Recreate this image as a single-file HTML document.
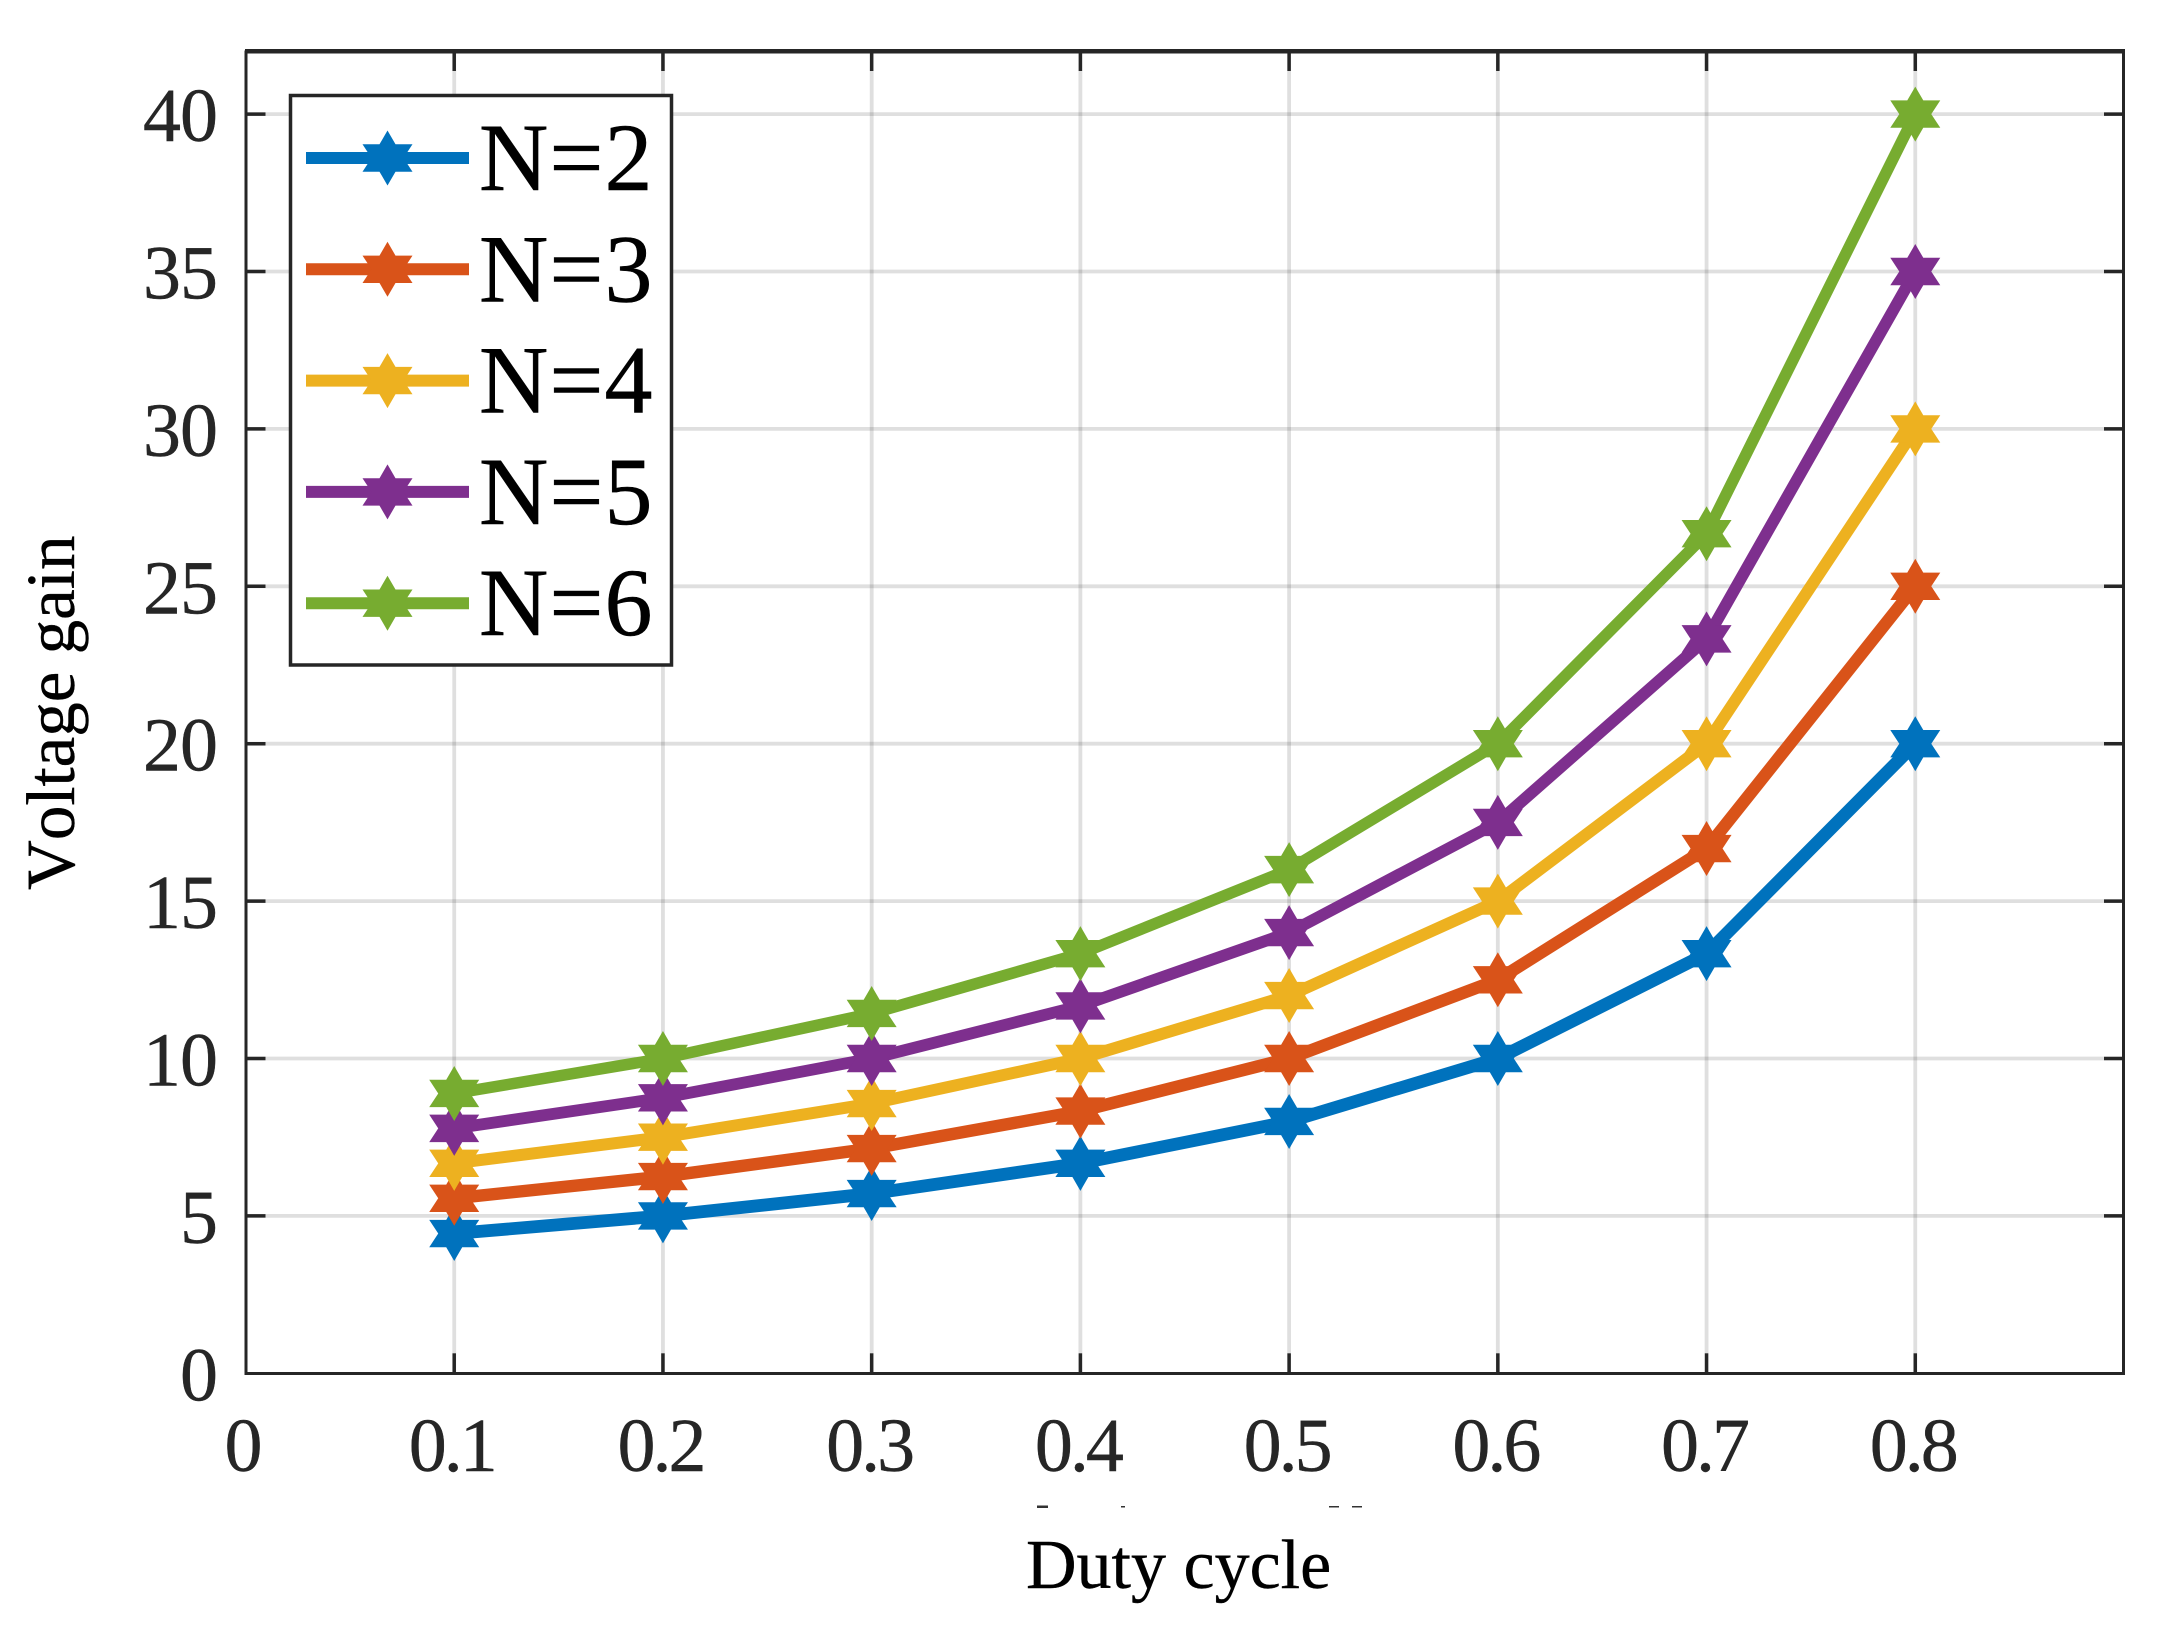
<!DOCTYPE html>
<html lang="en">
<head>
<meta charset="utf-8">
<title>Voltage gain vs duty cycle</title>
<style>
html,body{margin:0;padding:0;background:#fff;}
svg{display:block;}
text{font-family:"Liberation Serif","Times New Roman",serif;}
</style>
</head>
<body>
<svg id="chart" xmlns="http://www.w3.org/2000/svg" width="2176" height="1633" viewBox="0 0 2176 1633">
  <rect x="0" y="0" width="2176" height="1633" fill="#ffffff"/>
  <g id="grid"></g>
  <g id="ticks"></g>
  <g id="series"></g>
  <rect x="246" y="52" width="1877.5" height="1321.5" fill="none" stroke="#262626" stroke-width="3"/>
  <line x1="245" y1="51" x2="2125" y2="51" stroke="#262626" stroke-width="4"/>
  <g id="xlabels"></g>
  <g id="ylabels"></g>
  <g id="legend"></g>
  <g fill="#333333">
    <rect x="1037" y="1505.5" width="11" height="2.5"/>
    <rect x="1121" y="1506" width="4" height="1.5"/>
    <rect x="1329" y="1506" width="10" height="1.5"/>
    <rect x="1352" y="1506" width="10" height="1.5"/>
  </g>
  <text x="1026" y="1588" font-size="70" fill="#000000" stroke="#000000" stroke-width="0.4">Duty cycle</text>
  <text transform="translate(74 890) rotate(-90)" font-size="69" fill="#000000" stroke="#000000" stroke-width="0.4" style="font-kerning:none">Voltage gain</text>
</svg>
<script>
const dutyCycles = [0.1, 0.2, 0.3, 0.4, 0.5, 0.6, 0.7, 0.8];
const gainN2 = [4.44, 5, 5.71, 6.67, 8, 10, 13.33, 20];
const gainN3 = [5.56, 6.25, 7.14, 8.33, 10, 12.5, 16.67, 25];
const gainN4 = [6.67, 7.5, 8.57, 10, 12, 15, 20, 30];
const gainN5 = [7.78, 8.75, 10, 11.67, 14, 17.5, 23.33, 35];
const gainN6 = [8.89, 10, 11.43, 13.33, 16, 20, 26.67, 40];
const seriesNames = ['N=2', 'N=3', 'N=4', 'N=5', 'N=6'];
const seriesColors = ['#0072BD', '#D95319', '#EDB120', '#7E2F8E', '#77AC30'];
const seriesStrokeWidths = [12.8, 12.4, 12, 11.8, 11.5];
const xTickLabels = ['0', '0.1', '0.2', '0.3', '0.4', '0.5', '0.6', '0.7', '0.8'];
const xTickValues = [0, 0.1, 0.2, 0.3, 0.4, 0.5, 0.6, 0.7, 0.8];
const yTickLabels = ['0', '5', '10', '15', '20', '25', '30', '35', '40'];
const yTickValues = [0, 5, 10, 15, 20, 25, 30, 35, 40];
const allSeries = [gainN2, gainN3, gainN4, gainN5, gainN6];

const NS = 'http://www.w3.org/2000/svg';
const PLOT = {left: 245.5, right: 2124, top: 51, bottom: 1373.3};
const X_MAX = 0.9;
const Y_UNIT = 31.48;
function xScale(v) { return PLOT.left + (v / X_MAX) * (PLOT.right - PLOT.left); }
function yScale(v) { return PLOT.bottom - v * Y_UNIT; }
function make(tag, attrs, parent) {
  const el = document.createElementNS(NS, tag);
  for (const k in attrs) el.setAttribute(k, attrs[k]);
  parent.appendChild(el);
  return el;
}
function starPoints(cx, cy) {
  const p = [[0,-27.5],[8,-13.7],[25,-13.7],[16,0],[25,13.7],[8,13.7],[0,27.5],[-8,13.7],[-25,13.7],[-16,0],[-25,-13.7],[-8,-13.7]];
  return p.map(function (q) { return (cx + q[0]) + ',' + (cy + q[1]); }).join(' ');
}

const gridG = document.getElementById('grid');
const ticksG = document.getElementById('ticks');
const xLabelsG = document.getElementById('xlabels');
const yLabelsG = document.getElementById('ylabels');
const seriesG = document.getElementById('series');
const legendG = document.getElementById('legend');

xTickValues.forEach(function (v, i) {
  const x = xScale(v);
  if (v > 0) {
    const g = make('line', {x1: x, y1: PLOT.top, x2: x, y2: PLOT.bottom, stroke: '#262626', 'stroke-opacity': 0.15, 'stroke-width': 3.8}, gridG);
    
    
    const t1 = make('line', {x1: x, y1: PLOT.bottom, x2: x, y2: PLOT.bottom - 20, stroke: '#262626', 'stroke-width': 3.5}, ticksG);
    
    
    const t2 = make('line', {x1: x, y1: PLOT.top, x2: x, y2: PLOT.top + 20, stroke: '#262626', 'stroke-width': 3.5}, ticksG);
    
    
  }
  const lab = make('text', {x: x - (v > 0 ? 2.5 : 2), y: 1471, 'font-size': 76, 'letter-spacing': v > 0 ? -3 : 0, fill: '#262626', stroke: '#262626', 'stroke-width': 0.4, 'text-anchor': 'middle'}, xLabelsG);
  
  
  lab.textContent = xTickLabels[i];
});

yTickValues.forEach(function (v, i) {
  const y = yScale(v);
  if (v > 0) {
    const g = make('line', {x1: PLOT.left, y1: y, x2: PLOT.right, y2: y, stroke: '#262626', 'stroke-opacity': 0.15, 'stroke-width': 3.8}, gridG);
    
    
    const t1 = make('line', {x1: PLOT.left, y1: y, x2: PLOT.left + 20, y2: y, stroke: '#262626', 'stroke-width': 3.5}, ticksG);
    
    
    const t2 = make('line', {x1: PLOT.right, y1: y, x2: PLOT.right - 20, y2: y, stroke: '#262626', 'stroke-width': 3.5}, ticksG);
    
    
  }
  const lab = make('text', {x: 217, y: y + 27, 'font-size': 76, 'letter-spacing': -1, fill: '#262626', stroke: '#262626', 'stroke-width': 0.4, 'text-anchor': 'end'}, yLabelsG);
  
  
  lab.textContent = yTickLabels[i];
});

allSeries.forEach(function (vals, s) {
  const color = seriesColors[s];
  const pts = vals.map(function (v, i) { return xScale(dutyCycles[i]) + ',' + yScale(v); }).join(' ');
  const line = make('polyline', {points: pts, fill: 'none', stroke: color, 'stroke-width': seriesStrokeWidths[s], 'stroke-linejoin': 'round'}, seriesG);
  
  
  vals.forEach(function (v, i) {
    const m = make('polygon', {points: starPoints(xScale(dutyCycles[i]), yScale(v)), fill: color}, seriesG);
    
    
  });
});

const legendBox = make('rect', {x: 290.5, y: 95.5, width: 381, height: 569.5, fill: '#ffffff', stroke: '#262626', 'stroke-width': 3.5}, legendG);


seriesNames.forEach(function (name, s) {
  const y = 158 + s * 111.3;
  const ln = make('line', {x1: 306, y1: y, x2: 469, y2: y, stroke: seriesColors[s], 'stroke-width': 12}, legendG);
  
  
  const mk = make('polygon', {points: starPoints(387.5, y), fill: seriesColors[s]}, legendG);
  
  
  const tx = make('text', {x: 479, y: y + 32, 'font-size': 96, 'letter-spacing': 1, fill: '#000000', stroke: '#000000', 'stroke-width': 0.5}, legendG);
  
  
  tx.textContent = name;
});
</script>
</body>
</html>
